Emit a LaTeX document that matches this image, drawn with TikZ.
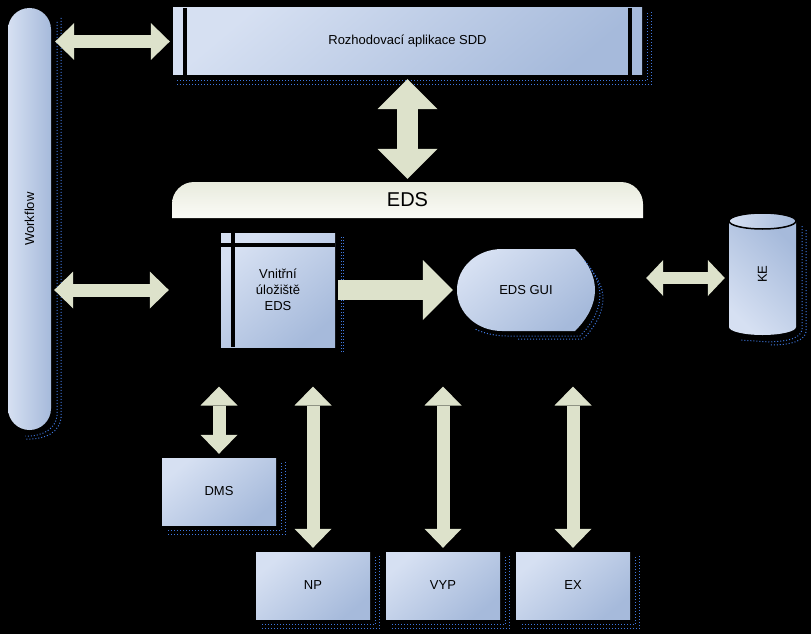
\documentclass[tikz,border=0pt]{standalone}
\usepackage{fontspec}
\setmainfont{Liberation Sans}
\usetikzlibrary{arrows.meta}
\definecolor{bl}{HTML}{D6E0F2}
\definecolor{bd}{HTML}{A6BADB}
\definecolor{arr}{HTML}{DDE2CB}
\definecolor{shb}{HTML}{3F78E0}
\definecolor{edt}{HTML}{E8EBDD}
\definecolor{edb}{HTML}{FBFBF7}
\newcommand\bshadow[1]{%
  \draw[shline] ([xshift=5pt,yshift=-5pt]#1.north east) -- ([xshift=5pt,yshift=-5pt]#1.south east) -- ([xshift=4pt,yshift=-5pt]#1.south west);
  \draw[shline] ([xshift=9pt,yshift=-4pt]#1.north east) -- ([xshift=9pt,yshift=-9pt]#1.south east) -- ([xshift=4pt,yshift=-9pt]#1.south west);}
\begin{document}
\begin{tikzpicture}[x=1pt,y=-1pt,
  lbl/.style={font=\fontsize{13}{16}\selectfont, text=black, align=center},
  box/.style={lbl, rectangle, inner sep=0pt, shade, top color=bl, bottom color=bd, shading angle=40},
  shline/.style={draw=shb, line width=1pt, dash pattern=on 1pt off 2pt},
  harrow/.style={draw=arr, line width=13pt, {Triangle[length=19pt,width=37pt,line width=0pt]}-{Triangle[length=19pt,width=37pt,line width=0pt]}},
  bigarrow/.style={draw=arr, line width=21pt, {Triangle[length=30pt,width=60pt,line width=0pt]}-{Triangle[length=30pt,width=60pt,line width=0pt]}},
  fatarrow/.style={draw=arr, line width=20pt, -{Triangle[length=30pt,width=60pt,line width=0pt]}},
  karrow/.style={draw=arr, line width=12pt, {Triangle[length=17pt,width=36pt,line width=0pt]}-{Triangle[length=17pt,width=36pt,line width=0pt]}}
]
\fill[black] (0,0) rectangle (811,634);
\useasboundingbox (0,0) rectangle (811,634);

% Workflow pill
\node[rectangle, inner sep=0pt, minimum width=43pt, minimum height=422pt, rounded corners=21.5pt,
      shade, left color=bl, right color=bd] (wf) at (29.5,219) {};
\node[lbl, rotate=90] at (wf) {Workflow};
\draw[shline] ([xshift=6pt,yshift=-14pt]wf.north east) -- ([xshift=6pt,yshift=18pt]wf.south east)
  .. controls ([xshift=6pt,yshift=0pt]wf.south east) and ([xshift=12pt,yshift=-6pt]wf.south) .. ([xshift=-4pt,yshift=-6pt]wf.south);
\draw[shline] ([xshift=10pt,yshift=-10pt]wf.north east) -- ([xshift=10pt,yshift=16pt]wf.south east)
  .. controls ([xshift=10pt,yshift=-4pt]wf.south east) and ([xshift=14pt,yshift=-9pt]wf.south) .. ([xshift=-4pt,yshift=-9pt]wf.south);

% Rozhodovaci aplikace
\node[box, minimum width=469pt, minimum height=67pt] (roz) at (407.5,41.5) {Rozhodovací aplikace SDD};
\draw[black, line width=4pt] ([xshift=12pt]roz.north west) -- ([xshift=12pt]roz.south west);
\draw[black, line width=4pt] ([xshift=-12pt]roz.north east) -- ([xshift=-12pt]roz.south east);
\bshadow{roz}

% EDS bar
\path[shade, top color=edt, bottom color=edb] (172,218) -- (172,204) arc[start angle=180, end angle=270, radius=22]
  -- (621,182) arc[start angle=270, end angle=360, radius=22] -- (643,218) -- cycle;
\node[inner sep=0pt, minimum width=471pt, minimum height=36pt, font=\fontsize{20}{24}\selectfont] (eds) at (407.5,200) {EDS};

% Vnitrni uloziste
\node[box, minimum width=114pt, minimum height=114pt] (vn) at (278,290) {Vnitřní\\úložiště\\EDS};
\draw[black, line width=4pt] ([xshift=12pt]vn.north west) -- ([xshift=12pt]vn.south west);
\draw[black, line width=4pt] ([yshift=-12pt]vn.north west) -- ([yshift=-12pt]vn.north east);
\draw[shline] ([xshift=6pt,yshift=-4pt]vn.north east) -- ([xshift=6pt,yshift=-6pt]vn.south east);
\draw[shline] ([xshift=8pt,yshift=-4pt]vn.north east) -- ([xshift=8pt,yshift=-6pt]vn.south east);

% EDS GUI
\path[shade, top color=bl, bottom color=bd, shading angle=40]
  (502,249) -- (575,249) .. controls (588,262) and (595,276) .. (595,290)
  .. controls (595,304) and (588,318) .. (575,331) -- (502,331)
  .. controls (477,331) and (457,313) .. (457,290)
  .. controls (457,267) and (477,249) .. (502,249) -- cycle;
\node[lbl, inner sep=0pt, minimum width=138pt, minimum height=82pt] (gui) at (526,290) {EDS GUI};
\draw[shline, shift={(5,5)}] (580,256) .. controls (590,268) and (595,280) .. (595,290)
  .. controls (595,304) and (588,318) .. (575,331) -- (502,331) .. controls (490,331) and (478,328) .. (470,324);
\draw[shline, shift={(8,8)}] (582,260) .. controls (590,270) and (595,280) .. (595,290)
  .. controls (595,304) and (588,318) .. (575,331) -- (510,331);

% KE cylinder
\path[shade, top color=bd, bottom color=bl, shading angle=-45]
  (729,221) -- (729,327) arc[start angle=180, end angle=0, x radius=33.5, y radius=8] -- (796,221) -- cycle;
\draw[black, line width=1.5pt, shade, left color=bl, right color=bd] (762.5,221) ellipse [x radius=33.5, y radius=8];
\node[inner sep=0pt, minimum width=67pt, minimum height=122pt] (ke) at (762.5,274) {};
\node[lbl, rotate=90] at (ke) {KE};
\draw[shline] (802,226) -- (802,330) .. controls (800,338) and (790,341) .. (770,342) -- (740,340);
\draw[shline] (806,230) -- (806,332) .. controls (804,340) and (794,345) .. (770,345);

% bottom boxes
\node[box, minimum width=114pt, minimum height=67pt] (dms) at (219,491.5) {DMS};
\node[box, minimum width=114pt, minimum height=67pt] (np) at (313,585.5) {NP};
\node[box, minimum width=114pt, minimum height=67pt] (vyp) at (443,585.5) {VYP};
\node[box, minimum width=114pt, minimum height=67pt] (ex) at (573,585.5) {EX};
\bshadow{dms}
\bshadow{np}
\bshadow{vyp}
\bshadow{ex}

% connectors
\coordinate (bot) at (0,386.5);
\draw[harrow, shorten <=4pt, shorten >=3pt] (wf.east |- roz.west) -- (roz.west);
\draw[harrow, shorten <=3pt, shorten >=3pt] (wf.east |- vn.west) -- (eds.west |- vn.west);
\draw[bigarrow, shorten <=4pt, shorten >=3pt] (eds.north |- roz.south) -- (eds.north);
\draw[fatarrow, shorten <=3pt, shorten >=4pt] (vn.east) -- (gui.west);
\draw[karrow, shorten <=3pt, shorten >=4pt] ([yshift=-4pt]eds.east |- ke.west) -- ([yshift=-4pt]ke.west);
\draw[harrow, shorten >=4pt] (dms.north |- bot) -- (dms.north);
\draw[harrow, shorten >=4pt] (np.north |- bot) -- (np.north);
\draw[harrow, shorten >=4pt] (vyp.north |- bot) -- (vyp.north);
\draw[harrow, shorten >=4pt] (ex.north |- bot) -- (ex.north);
\end{tikzpicture}
\end{document}
